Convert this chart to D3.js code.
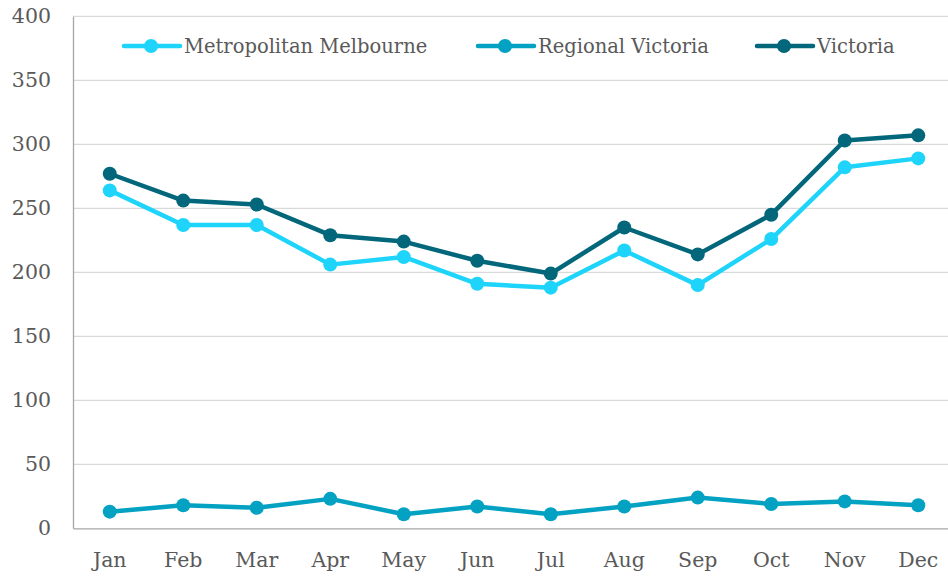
<!DOCTYPE html>
<html>
<head>
<meta charset="utf-8">
<script src="https://cdn.jsdelivr.net/npm/d3@7"></script>
<style>
  body { margin: 0; background: #fff; }
  svg { display: block; font-family: "DejaVu Serif", serif; }
</style>
</head>
<body>
<svg width="948" height="576"></svg>
<script>
// data
const months = ['Jan', 'Feb', 'Mar', 'Apr', 'May', 'Jun', 'Jul', 'Aug', 'Sep', 'Oct', 'Nov', 'Dec'];
const metro = [264, 237, 237, 206, 212, 191, 188, 217, 190, 226, 282, 289];
const regional = [13, 18, 16, 23, 11, 17, 11, 17, 24, 19, 21, 18];
const victoria = [277, 256, 253, 229, 224, 209, 199, 235, 214, 245, 303, 307];
const seriesNames = ['Metropolitan Melbourne', 'Regional Victoria', 'Victoria'];
const yTicks = [0, 50, 100, 150, 200, 250, 300, 350, 400];

const colors = ['#1fd4fa', '#03a2c3', '#02677a'];
const series = [metro, regional, victoria].map((vals, i) => ({
  name: seriesNames[i], color: colors[i],
  values: vals.map((v, j) => ({ m: months[j], v: v }))
}));

const svg = d3.select('svg');
const plotL = 73, plotR = 955, plotT = 16.3, plotB = 528.3;

const x = d3.scaleBand().domain(months).range([plotL, plotR]);
const y = d3.scaleLinear().domain([0, 400]).range([plotB, plotT]);

// gridlines
svg.append('g')
  .selectAll('line')
  .data(yTicks.filter(d => d > 0))
  .enter().append('line')
    .attr('x1', plotL).attr('x2', 948)
    .attr('y1', d => y(d)).attr('y2', d => y(d))
    .attr('stroke', '#d9d9d9').attr('stroke-width', 1.3);

// axes
const yAxis = svg.append('g')
  .attr('transform', `translate(${plotL},0)`)
  .call(d3.axisLeft(y).tickValues(yTicks).tickSize(0).tickPadding(22));
yAxis.select('.domain').attr('stroke', '#a6a6a6').attr('stroke-width', 1.3);
yAxis.selectAll('text')
  .attr('font-size', '20.5px').attr('fill', '#595959')
  .attr('font-family', '"DejaVu Serif", serif');

const xAxis = svg.append('g')
  .attr('transform', `translate(0,${plotB})`)
  .call(d3.axisBottom(x).tickSize(0).tickPadding(24));
xAxis.select('.domain').attr('stroke', '#a6a6a6').attr('stroke-width', 1.3);
xAxis.selectAll('text')
  .attr('font-size', '20.5px').attr('fill', '#595959')
  .attr('font-family', '"DejaVu Serif", serif');

// lines + markers
const line = d3.line()
  .x(d => x(d.m) + x.bandwidth() / 2)
  .y(d => y(d.v));

const sg = svg.append('g').selectAll('g')
  .data(series)
  .enter().append('g');

sg.append('path')
  .attr('d', d => line(d.values))
  .attr('fill', 'none')
  .attr('stroke', d => d.color)
  .attr('stroke-width', 4.5)
  .attr('stroke-linejoin', 'round');

sg.selectAll('circle')
  .data(d => d.values.map(p => ({ p: p, color: d.color })))
  .enter().append('circle')
    .attr('cx', d => x(d.p.m) + x.bandwidth() / 2)
    .attr('cy', d => y(d.p.v))
    .attr('r', 7)
    .attr('fill', d => d.color);

// legend
const legendX = [124, 478, 757];
const lg = svg.append('g').selectAll('g')
  .data(series)
  .enter().append('g')
    .attr('transform', (d, i) => `translate(${legendX[i]},46)`);
lg.append('line')
  .attr('x1', 0).attr('x2', 56)
  .attr('stroke', d => d.color).attr('stroke-width', 4.5)
  .attr('stroke-linecap', 'round');
lg.append('circle')
  .attr('cx', 27).attr('r', 7)
  .attr('fill', d => d.color);
lg.append('text')
  .attr('x', 60).attr('dy', '0.35em')
  .attr('font-size', '19.5px').attr('fill', '#595959')
  .text(d => d.name);
</script>
</body>
</html>
